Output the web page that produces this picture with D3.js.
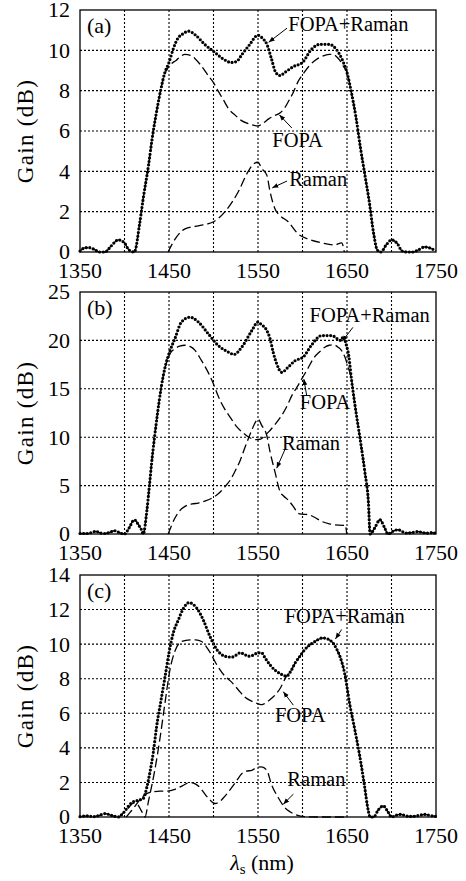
<!DOCTYPE html>
<html>
<head>
<meta charset="utf-8">
<script src="https://cdnjs.cloudflare.com/ajax/libs/d3/7.8.5/d3.min.js"></script>
<style>
  body { margin: 0; background: #fff; }
</style>
</head>
<body>
<script>
// wavelength ticks (nm)
var xTicks = [1350, 1400, 1450, 1500, 1550, 1600, 1650, 1700, 1750];
var yTicksA = [0, 2, 4, 6, 8, 10, 12];
var yTicksB = [0, 5, 10, 15, 20, 25];
var yTicksC = [0, 2, 4, 6, 8, 10, 12, 14];
var panelNames = ["(a)", "(b)", "(c)"];

// panel (a): [wavelength nm, gain dB]
var comboA = [[1350,0.05],[1355,0.2],[1360,0.22],[1365,0.15],[1372,0],[1378,0],[1385,0.3],[1393,0.6],[1400,0.45],[1405,0.1],[1411,0],
  [1417,1.4],[1421,2.65],[1427,4.3],[1431,5.6],[1436,6.95],[1441,8.1],[1445,8.85],[1450,9.4],[1455,10.1],[1460,10.6],[1465,10.8],
  [1472,10.95],[1480,10.75],[1490,10.3],[1500,9.95],[1510,9.6],[1520,9.4],[1526,9.45],[1532,9.8],[1540,10.25],[1550,10.75],
  [1555,10.6],[1560,10.3],[1565,9.6],[1570,8.9],[1575,8.75],[1580,8.9],[1590,9.2],[1600,9.4],[1610,10.05],[1620,10.3],[1630,10.3],
  [1638,10.05],[1645,9.5],[1650,8.9],[1655,7.9],[1660,6.7],[1665,5.2],[1670,3.85],[1675,2.5],[1680,0.9],[1684,0.1],[1688,0],
  [1694,0.35],[1700,0.6],[1706,0.45],[1712,0.05],[1718,0],[1724,0],[1730,0.1],[1737,0.25],[1743,0.2],[1750,0.05]];
var fopaA = [[1350,0.05],[1355,0.2],[1360,0.22],[1365,0.15],[1372,0],[1378,0],[1385,0.3],[1393,0.6],[1400,0.45],[1405,0.1],[1411,0],
  [1417,1.4],[1421,2.65],[1427,4.3],[1431,5.6],[1436,6.95],[1441,8.1],[1445,8.8],[1450,9.2],[1453,9.35],[1458,9.5],[1463,9.7],
  [1468,9.8],[1474,9.75],[1479,9.6],[1486,9.25],[1494,8.75],[1500,8.4],[1505,8.0],[1511,7.55],[1517,7.1],[1524,6.8],[1532,6.5],
  [1540,6.35],[1550,6.25],[1556,6.4],[1562,6.6],[1568,6.75],[1575,6.9],[1580,7.15],[1584,7.45],[1590,7.95],[1595,8.45],[1601,8.85],
  [1607,9.2],[1614,9.5],[1622,9.7],[1630,9.8],[1634,9.8],[1638,9.7],[1642,9.5],[1646,9.2],[1650,8.9],[1655,7.9],[1660,6.7],
  [1665,5.2],[1670,3.85],[1675,2.5],[1680,0.9],[1684,0.1],[1688,0],[1694,0.35],[1700,0.6],[1706,0.45],[1712,0.05],[1718,0],
  [1724,0],[1730,0.1],[1737,0.25],[1743,0.2],[1750,0.05]];
var ramanA = [[1449,0],[1457,0.65],[1468,1.15],[1483,1.3],[1500,1.5],[1513,2.0],[1528,3.0],[1539,4.0],[1546,4.4],[1550,4.45],
  [1554,4.15],[1560,3.8],[1563.5,3.0],[1569,2.15],[1575,1.8],[1584,1.5],[1595,0.9],[1606,0.65],[1622,0.45],[1636,0.35],
  [1644,0.45],[1647,0]];

// panel (b)
var comboB = [[1350,0.05],[1358,0.05],[1363,0.15],[1368,0.27],[1373,0.1],[1378,0.05],[1384,0.2],[1389,0.34],[1394,0.15],[1400,0],
  [1405,0.6],[1411,1.47],[1416,0.9],[1419,0.45],[1421,0],[1425,2.3],[1428,5.0],[1431,7.8],[1434,10.2],[1437,12.4],[1441,15.0],
  [1446,17.4],[1451,18.9],[1456.7,20.2],[1464,21.9],[1473.6,22.4],[1483,21.9],[1494,20.7],[1505,19.5],[1516.6,18.8],[1523,18.55],
  [1531.7,19.3],[1543,21.0],[1550,21.9],[1553,21.7],[1560,21.0],[1563.5,20.2],[1567,18.8],[1571,17.6],[1576.6,16.7],[1584,17.25],
  [1591.6,17.9],[1601,18.3],[1610,19.5],[1621.6,20.5],[1632.8,20.5],[1643,20.0],[1646,20.4],[1649,19.6],[1652,18.4],[1655,16.0],
  [1659,13.3],[1664.6,9.9],[1670,6.45],[1674,3.35],[1676,0],[1681,0.6],[1687,1.47],[1692,0.7],[1696,0],[1702,0.3],[1707.6,0.45],
  [1712,0.25],[1717,0.1],[1723,0.15],[1730,0.25],[1735,0.15],[1741,0.1],[1746,0.15],[1750,0.05]];
var fopaB = [[1350,0.05],[1358,0.05],[1363,0.15],[1368,0.27],[1373,0.1],[1378,0.05],[1384,0.2],[1389,0.34],[1394,0.15],[1400,0],
  [1405,0.6],[1411,1.47],[1416,0.9],[1419,0.45],[1421,0],[1425,2.3],[1428,5.0],[1431,7.8],[1434,10.2],[1437,12.4],[1441,15.0],
  [1446,17.3],[1451,18.6],[1456,19.1],[1462,19.4],[1468,19.5],[1474,19.35],[1479,19.0],[1486,18.0],[1494,16.7],[1500,15.5],
  [1505,14.3],[1512,13.0],[1520,11.9],[1526,11.1],[1532,10.55],[1538,10.1],[1543,9.85],[1548,9.75],[1553,9.8],[1558,10.2],
  [1562,10.55],[1569,11.3],[1577,12.3],[1583,13.3],[1588,14.3],[1594,15.2],[1599,16.0],[1606,17.1],[1612,18.1],[1619,18.8],
  [1625,19.3],[1630,19.5],[1635,19.55],[1640,19.3],[1645,18.8],[1648,18.2],[1651,17.3],[1655,16.0],[1659,13.3],[1664.6,9.9],
  [1670,6.45],[1674,3.35],[1676,0],[1681,0.6],[1687,1.47],[1692,0.7],[1696,0],[1702,0.3],[1707.6,0.45],[1712,0.25],[1717,0.1],
  [1723,0.15],[1730,0.25],[1735,0.15],[1741,0.1],[1746,0.15],[1750,0.05]];
var ramanB = [[1449,0],[1456.7,1.65],[1462,2.4],[1468,2.85],[1476,3.1],[1483,3.2],[1490,3.4],[1498,3.7],[1506,4.2],[1513,4.9],
  [1519,5.6],[1524,6.45],[1530,7.6],[1535,8.85],[1542,10.5],[1548,11.7],[1550,11.9],[1554,11.25],[1559.8,10.2],[1563.5,8.5],
  [1569,6.45],[1574.7,4.4],[1579,3.9],[1584,3.5],[1590,2.8],[1595,2.15],[1600,2.05],[1606.5,2.0],[1614,1.7],[1621.6,1.3],
  [1630,1.05],[1636.5,0.95],[1645,0.9],[1648,0.95],[1649.7,0]];

// panel (c)
var comboC = [[1350,0.02],[1359,0.06],[1365,0.02],[1372,0.1],[1378,0.2],[1385,0.1],[1393,0],[1397,0.15],[1400.6,0.35],[1404,0.6],
  [1408,0.83],[1415.5,0.97],[1421,1.07],[1425,1.7],[1428.6,2.6],[1432.4,3.75],[1436,5.2],[1441,6.75],[1445.5,8.1],[1450,9.5],
  [1454.8,10.65],[1460.5,11.4],[1466,12.05],[1472.5,12.4],[1481,12.1],[1488.5,11.4],[1496,10.45],[1503.6,9.7],[1513,9.3],
  [1520.4,9.25],[1525,9.35],[1530,9.5],[1535,9.4],[1539,9.3],[1544,9.35],[1550,9.5],[1554,9.5],[1558,9.2],[1563.5,8.8],[1569,8.5],
  [1574.7,8.3],[1582,8.15],[1587,8.45],[1591.6,8.9],[1597,9.3],[1602.8,9.7],[1614,10.15],[1622,10.35],[1625,10.35],[1630,10.25],
  [1634.6,10.05],[1638,9.75],[1642,9.3],[1647.8,8.2],[1653,6.55],[1659,5.0],[1664.6,3.45],[1669.4,1.9],[1674,0.35],[1676,0],
  [1680,0],[1685,0.4],[1690.8,0.64],[1696,0.3],[1700,0],[1705,0.1],[1711,0.15],[1717,0.05],[1722.7,0.03],[1730,0.08],
  [1737.6,0.15],[1744,0.08],[1750,0.03]];
var fopaC = [[1350,0.02],[1359,0.06],[1365,0.02],[1372,0.1],[1378,0.2],[1385,0.1],[1393,0],[1397,0.15],[1400.6,0.35],[1404,0.5],
  [1410,0.8],[1415,0.7],[1419,0.35],[1423,0],[1427,0.93],[1434,2.7],[1440,4.6],[1445.5,6.6],[1451,8.5],[1456.7,9.6],[1464,10.15],
  [1473.6,10.25],[1480,10.25],[1486.7,10.15],[1494,9.7],[1505,8.7],[1512,8.2],[1520.4,7.8],[1528,7.35],[1535,6.95],[1543,6.7],
  [1550.3,6.55],[1554,6.5],[1560,6.65],[1565,6.85],[1570,7.1],[1575,7.45],[1582,8.15],[1587,8.45],[1591.6,8.9],[1597,9.3],
  [1602.8,9.7],[1614,10.15],[1622,10.35],[1625,10.35],[1630,10.25],[1634.6,10.05],[1638,9.75],[1642,9.3],[1647.8,8.2],
  [1653,6.55],[1659,5.0],[1664.6,3.45],[1669.4,1.9],[1674,0.35],[1676,0],[1680,0],[1685,0.4],[1690.8,0.64],[1696,0.3],[1700,0],
  [1705,0.1],[1711,0.15],[1717,0.05],[1722.7,0.03],[1730,0.08],[1737.6,0.15],[1744,0.08],[1750,0.03]];
var ramanC = [[1402,0],[1406,0.25],[1410,0.5],[1415,0.85],[1420,1.15],[1425,1.35],[1432,1.45],[1440,1.5],[1448,1.5],[1456.7,1.6],
  [1465,1.8],[1473.6,2.0],[1480,1.9],[1485,1.7],[1490,1.35],[1494,1.1],[1501.7,0.78],[1506,0.85],[1511,1.1],[1516,1.4],
  [1520.4,1.7],[1526,2.1],[1531.7,2.5],[1537,2.65],[1543,2.7],[1548,2.85],[1554,2.9],[1560,2.7],[1565,1.9],[1573,1.1],
  [1580,0.55],[1586,0.3],[1591.6,0.15],[1602.8,0.02],[1620,0],[1650,0]];

// annotation anchors: [textX, textY, arrowFromX, arrowFromY, arrowToX, arrowToY] in data units
var notesA = { "FOPA+Raman": [1584, 10.97, 1582.6, 11.1, 1562, 10.4], "FOPA": [1566, 5.2, 1588, 6.15, 1574, 6.8], "Raman": [1585, 3.27, 1582.6, 3.52, 1566, 3.18] };
var notesB = { "FOPA+Raman": [1608, 21.9, 1656.7, 21.35, 1644.5, 19.9], "FOPA": [1597, 12.9, 1604.7, 14.3, 1601.5, 16.0], "Raman": [1577, 8.7, 1580, 8.67, 1571, 6.8] };
var notesC = { "FOPA+Raman": [1580, 11.25, 1644, 10.85, 1637, 10.3], "FOPA": [1569, 5.48, 1589.7, 6.47, 1578.4, 7.25], "Raman": [1583, 1.8, 1589.7, 1.32, 1578.4, 0.74] };

var W = 466, H = 881;
var left = 80, right = 436, ph = 242;
var tops = [10, 292, 575];
var serif = "'Liberation Serif'";

var svg = d3.select("body").append("svg").attr("width", W).attr("height", H);

var defs = svg.append("defs");
defs.append("marker")
  .attr("id", "arr")
  .attr("viewBox", "0 0 10 10")
  .attr("refX", 10).attr("refY", 5)
  .attr("markerWidth", 6).attr("markerHeight", 6)
  .attr("markerUnits", "userSpaceOnUse")
  .attr("orient", "auto")
  .append("path").attr("d", "M0,1 L10,5 L0,9 z").attr("fill", "#000");

var panels = [
  { name: panelNames[0], yMax: 12, yTicks: yTicksA, combo: comboA, fopa: fopaA, raman: ramanA, notes: notesA },
  { name: panelNames[1], yMax: 25, yTicks: yTicksB, combo: comboB, fopa: fopaB, raman: ramanB, notes: notesB },
  { name: panelNames[2], yMax: 14, yTicks: yTicksC, combo: comboC, fopa: fopaC, raman: ramanC, notes: notesC }
];

panels.forEach(function(p, i) {
  var top = tops[i];
  var x = d3.scaleLinear().domain([1350, 1750]).range([left, right]);
  var y = d3.scaleLinear().domain([0, p.yMax]).range([top + ph, top]);

  var g = svg.append("g");

  // gridlines
  g.selectAll("line.vg").data(xTicks.slice(1, -1)).enter().append("line")
    .attr("x1", d => x(d)).attr("x2", d => x(d))
    .attr("y1", top).attr("y2", top + ph)
    .attr("stroke", "#000").attr("stroke-width", 1.1).attr("stroke-dasharray", "2,2");
  g.selectAll("line.hg").data(p.yTicks.slice(1, -1)).enter().append("line")
    .attr("x1", left).attr("x2", right)
    .attr("y1", d => y(d)).attr("y2", d => y(d))
    .attr("stroke", "#000").attr("stroke-width", 1.1).attr("stroke-dasharray", "2,2");

  var line = d3.line()
    .x(d => x(d[0]))
    .y(d => y(d[1]))
    .curve(d3.curveMonotoneX);

  // FOPA, Raman dashed
  g.append("path").attr("d", line(p.fopa))
    .attr("fill", "none").attr("stroke", "#000").attr("stroke-width", 1.3)
    .attr("stroke-dasharray", "9,4");
  g.append("path").attr("d", line(p.raman))
    .attr("fill", "none").attr("stroke", "#000").attr("stroke-width", 1.3)
    .attr("stroke-dasharray", "9,4");

  // FOPA+Raman, dotted thick
  g.append("path").attr("d", line(p.combo))
    .attr("fill", "none").attr("stroke", "#000").attr("stroke-width", 3.2)
    .attr("stroke-linecap", "round")
    .attr("stroke-dasharray", "0,3.6");

  // frame
  g.append("rect").attr("x", left).attr("y", top).attr("width", right - left).attr("height", ph)
    .attr("fill", "none").attr("stroke", "#000").attr("stroke-width", 1.3);

  // tick labels
  g.selectAll("text.xt").data(xTicks.filter((d, k) => k % 2 == 0)).enter().append("text")
    .attr("x", d => x(d)).attr("y", top + ph + 25.5)
    .attr("text-anchor", "middle").attr("font-size", 22)
    .style("font-family", serif)
    .text(d => d);
  g.selectAll("text.yt").data(p.yTicks).enter().append("text")
    .attr("x", 70).attr("y", d => y(d)).attr("dy", "0.34em")
    .attr("text-anchor", "end").attr("font-size", 22)
    .style("font-family", serif)
    .text(d => d);

  // axis title
  g.append("text")
    .attr("transform", "translate(33," + (top + ph / 2) + ") rotate(-90)")
    .attr("text-anchor", "middle").attr("font-size", 23).attr("letter-spacing", 1.3)
    .style("font-family", serif)
    .text("Gain (dB)");

  // panel tag
  g.append("text").attr("x", 87).attr("y", top + 22.5).attr("font-size", 22)
    .style("font-family", serif).text(p.name);

  // annotations
  Object.keys(p.notes).forEach(function(k) {
    var n = p.notes[k];
    g.append("text").attr("x", x(n[0])).attr("y", y(n[1]))
      .attr("font-size", 20.5).style("font-family", serif).text(k);
    g.append("line")
      .attr("x1", x(n[2])).attr("y1", y(n[3]))
      .attr("x2", x(n[4])).attr("y2", y(n[5]))
      .attr("stroke", "#000").attr("stroke-width", 1)
      .attr("marker-end", "url(#arr)");
  });
});

// x axis title
var xt = svg.append("text").attr("x", 262).attr("y", 870).attr("text-anchor", "middle").attr("font-size", 22)
  .style("font-family", serif);
xt.append("tspan").attr("font-style", "italic").text("λ");
xt.append("tspan").attr("font-size", 15).attr("dy", 4).text("s");
xt.append("tspan").attr("dy", -4).text(" (nm)");
</script>
</body>
</html>
